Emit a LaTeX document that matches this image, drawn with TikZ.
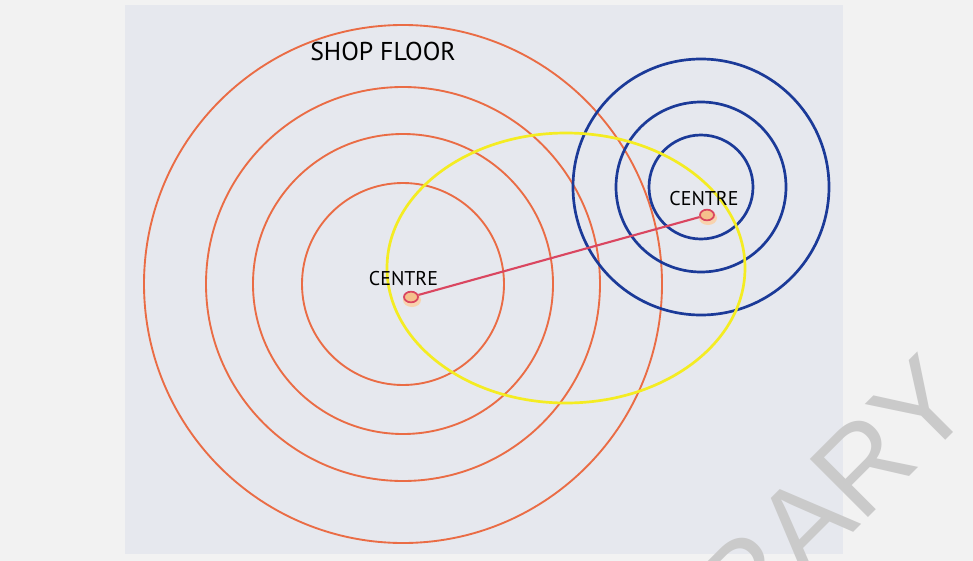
\documentclass[tikz,border=0pt]{standalone}
\usepackage{fontspec}
\setmainfont{PT Sans}
\newfontfamily\stampfont{Liberation Sans}
\usepackage{xcolor}
\usetikzlibrary{positioning, shapes.geometric}
\definecolor{pagegrey}{HTML}{F2F2F2}
\definecolor{panelgrey}{HTML}{E6E8EE}
\definecolor{ringorange}{HTML}{EA6C45}
\definecolor{ringblue}{HTML}{1B3A98}
\definecolor{reachyellow}{HTML}{F4EC22}
\definecolor{linkred}{HTML}{DA4660}
\definecolor{dotfill}{HTML}{F5C08C}
\definecolor{stampgrey}{HTML}{CACACA}

\begin{document}
\begin{tikzpicture}[x=0.03cm, y=-0.03cm,
    shopring/.style={draw=ringorange, line width=1.6pt},
    deptring/.style={draw=ringblue, line width=2.3pt},
    centredot/.style={ellipse, draw=linkred, line width=1.5pt, fill=dotfill,
        minimum width=0.42cm, minimum height=0.32cm, inner sep=0pt},
    centretext/.style={font=\fontsize{17}{17}\selectfont, text=black},
    stamp/.style={text=stampgrey, font=\stampfont\fontsize{102}{102}\selectfont}]
    \useasboundingbox (0,0) rectangle (973,561);
    % page and panel
    \fill[pagegrey] (0,0) rectangle (973,561);
    \fill[panelgrey] (125,5) rectangle (843,554);
    % rings round the shop floor centre
    \foreach \r in {101,150,197,259}
        \draw[shopring] (403,284) circle (\r);
    % rings round the second centre
    \foreach \r in {52,85,128}
        \draw[deptring] (701,187) circle (\r);
    % overlap area
    \draw[reachyellow, line width=2.3pt] (566,268) ellipse (179 and 135);
    % the two centres
    \fill[dotfill!70] (412,300) ellipse (9 and 7);
    \fill[dotfill!70] (708,218) ellipse (9 and 7);
    \node[centredot] (shopc) at (411,297) {};
    \node[centredot] (deptc) at (707,215) {};
    \draw[linkred, line width=1.8pt] (shopc) -- (deptc);
    \node[centretext] (shoplabel) at (403.5,279) {CENTRE};
    \node[centretext] (deptlabel) at (704,199) {CENTRE};
    \node[font=\fontsize{22}{22}\selectfont, text=black] (floor) at (383,51) {SHOP FLOOR};
    % scanner watermark
    \node[stamp, rotate=45] (mark) at (832,496) {RARY};
\end{tikzpicture}
\end{document}
